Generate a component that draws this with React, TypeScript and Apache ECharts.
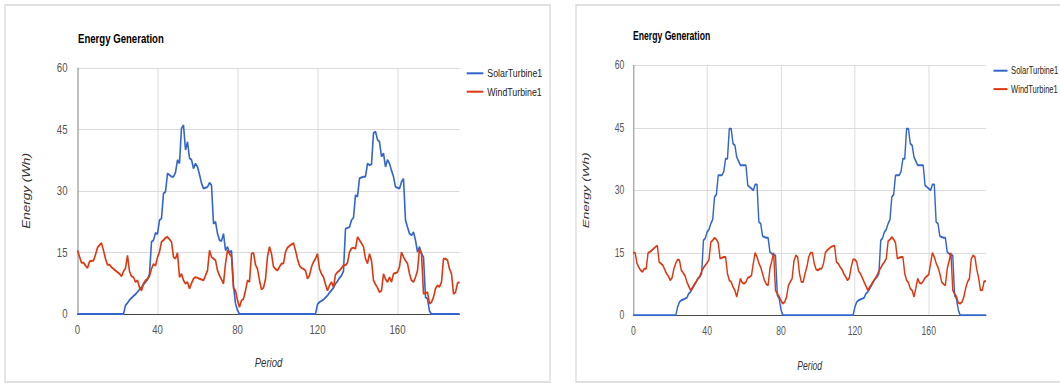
import React, { useEffect, useRef } from "react";
import * as echarts from "echarts";

const periods = Array.from({ length: 192 }, (_, i) => String(i));
const seriesNames = ["SolarTurbine1", "WindTurbine1"];
const chartTitle = "Energy Generation";
const yTitle = "Energy (Wh)";
const xTitle = "Period";

// Left chart
const leftSolar = [
  0, 0, 0, 0, 0, 0, 0, 0, 0, 0, 0, 0,
  0, 0, 0, 0, 0, 0, 0, 0, 0, 0, 0, 0,
  2.1, 2.7, 3.4, 3.9, 4.4, 4.8, 5.4, 6, 6.5, 7.2, 7.8, 8.4,
  9.8, 17.6, 18, 19.8, 19.5, 22.9, 23.3, 29.4, 29.8, 34.3, 33.9, 33.5,
  33.5, 34.5, 37.6, 36.7, 45.3, 46.1, 40, 42, 38, 37.6, 35.5, 36.7,
  35.9, 34, 31.9, 30.6, 30.8, 31, 32, 31.4, 22, 22.5, 19.6, 18,
  17.8, 19.6, 15.5, 16.4, 14.9, 15.5, 7, 2.5, 0.9, 0, 0, 0,
  0, 0, 0, 0, 0, 0, 0, 0, 0, 0, 0, 0,
  0, 0, 0, 0, 0, 0, 0, 0, 0, 0, 0, 0,
  0, 0, 0, 0, 0, 0, 0, 0, 0, 0, 0, 0,
  2.4, 2.9, 3.2, 3.5, 4, 4.5, 5.2, 5.8, 6.4, 7.4, 8, 8.8,
  9.4, 10.5, 20.8, 21, 21.2, 22.9, 23.5, 29, 28.6, 33.1, 33.3, 33.5,
  33.5, 36.7, 36.3, 36.5, 44.1, 44.5, 42.5, 42, 38.4, 39.2, 35.9, 37.6,
  36.7, 35, 33.5, 31, 30.8, 30.6, 32.2, 33, 22.9, 21.2, 19.6, 19.2,
  20, 18, 15.1, 16.4, 14.7, 13.9, 4.1, 3.7, 0.7, 0, 0, 0,
  0, 0, 0, 0, 0, 0, 0, 0, 0, 0, 0, 0,
];

const leftWind = [
  15.5, 14, 12.5, 12.5, 11.8, 11.2, 12.8, 13, 13, 14.5, 16.2, 16.8,
  17.3, 15.5, 13.5, 12, 12, 11.4, 11, 10.6, 10.2, 9.8, 9.2, 10.4,
  11.2, 14.3, 10.4, 9.2, 9, 7.8, 8.2, 6.5, 5.7, 7.4, 8.2, 8.6,
  9.2, 11, 12.2, 11.8, 13.8, 15.2, 17.6, 18, 18.6, 18.8, 18.2, 17.6,
  13.9, 13.5, 14.9, 9, 9.8, 8.2, 7.4, 7.8, 6.2, 7.5, 8.6, 9,
  8.8, 8.6, 8.4, 8.2, 9.4, 10.6, 15.5, 13.9, 13.5, 13.1, 10.6, 9.4,
  8.4, 7.4, 12.3, 15.5, 14.7, 13.9, 6.2, 5.7, 3.3, 1.7, 3.3, 3.7,
  5.7, 8.2, 7.8, 14.7, 14.9, 12, 11, 8.2, 6, 6.4, 8.5, 14,
  16.4, 14.7, 11.5, 11, 10.6, 11.5, 12.3, 12.3, 15.1, 16.2, 16.6, 17,
  17.3, 15.5, 13.4, 11.8, 11.2, 11, 10.6, 8.6, 9.4, 11.5, 12.7, 13.5,
  14.7, 11, 9.8, 9, 7.2, 5.7, 7, 7.8, 6.6, 9.6, 10.2, 10.6,
  11.2, 11.9, 11.9, 12.5, 15.1, 16, 16.2, 15.9, 18.8, 18, 17.2, 16.4,
  13.5, 12.3, 14.7, 13, 8.2, 7.2, 6.4, 5.3, 5.7, 9.8, 8.5, 7.8,
  9, 7.8, 9.8, 10, 10.2, 11.5, 15.1, 13.9, 13, 12.3, 9.8, 8.2,
  7.8, 9, 10.6, 15.9, 14.7, 4.9, 5.1, 5.3, 2.5, 2.9, 4.1, 6.2,
  7, 6.6, 7.8, 13.5, 13.5, 13.1, 11, 9.8, 4.9, 5.3, 7.5, 7.8,
];

// Right chart
const rightSolar = [
  0, 0, 0, 0, 0, 0, 0, 0, 0, 0, 0, 0,
  0, 0, 0, 0, 0, 0, 0, 0, 0, 0, 0, 0,
  2, 3.2, 3.6, 3.8, 4, 4.2, 5.2, 5.6, 6.4, 7.2, 8, 8.8,
  9.2, 10, 18, 18.5, 20, 20.6, 22, 23, 28.4, 29, 33.6, 33.6,
  33.6, 34.5, 37.6, 37.6, 44.8, 44.8, 41.2, 40.8, 38, 37, 36, 36,
  36, 36, 31.2, 30.8, 30.4, 30, 31.4, 31.4, 22.4, 22, 19, 18.8,
  18.6, 18.6, 15.2, 14.8, 14.4, 14.4, 4.8, 4, 1.3, 0, 0, 0,
  0, 0, 0, 0, 0, 0, 0, 0, 0, 0, 0, 0,
  0, 0, 0, 0, 0, 0, 0, 0, 0, 0, 0, 0,
  0, 0, 0, 0, 0, 0, 0, 0, 0, 0, 0, 0,
  2, 3.2, 3.6, 3.8, 4, 4.2, 5.2, 5.6, 6.4, 7.2, 8, 8.8,
  9.2, 10, 18, 18.5, 20, 20.6, 22, 23, 28.4, 29, 33.6, 33.6,
  33.6, 34.5, 37.6, 37.6, 44.8, 44.8, 41.2, 40.8, 38, 37, 36, 36,
  36, 36, 31.2, 30.8, 30.4, 30, 31.4, 31.4, 22.4, 22, 19, 18.8,
  18.6, 18.6, 15.2, 14.8, 14.4, 14.4, 4.8, 4, 1.3, 0, 0, 0,
  0, 0, 0, 0, 0, 0, 0, 0, 0, 0, 0, 0,
];

const rightWind = [
  15, 15, 12.5, 11.5, 10.8, 10.4, 11.2, 11.2, 15, 15.2, 15.6, 16,
  16.4, 16.7, 12.8, 12.4, 12, 11, 10, 9.4, 8.4, 9, 11.2, 12.5,
  13.4, 13.2, 10.8, 10.2, 9.5, 8, 7, 6, 6.6, 7.4, 8, 8.8,
  9.4, 10.6, 11.4, 12, 12.6, 13.4, 17.6, 18, 18.6, 18.2, 17.4, 13.6,
  13.8, 14, 14, 10, 8.4, 8, 6.8, 6, 4.4, 6.5, 8.8, 7.8,
  7.6, 8, 9, 9.2, 9.6, 12.5, 15, 14, 12.5, 11.5, 10, 8.4,
  7.5, 7.2, 11.2, 13, 15, 6, 5.2, 4.5, 3.5, 2.8, 3.2, 4.4,
  7.2, 8, 8.8, 13, 14.4, 14, 10, 8, 8, 10, 11.6, 14,
  15, 15, 12.4, 11, 10.8, 11.2, 11.2, 12.4, 15, 15.6, 16, 16.4,
  16.6, 16.7, 12.8, 12.4, 11.6, 11, 10, 9.2, 8.4, 9, 11.6, 13.4,
  13.4, 12.8, 10.6, 10, 9, 8, 7, 6, 6.8, 7.4, 8.2, 8.8,
  9.6, 10.6, 11.4, 12.2, 12.8, 13.6, 17.8, 18.2, 18.8, 18.2, 17.4, 13.6,
  13.8, 14, 14, 10, 8.4, 7.8, 6.4, 6, 4.4, 6.5, 8.8, 7.8,
  7.6, 8.2, 9, 9.4, 9.8, 12.5, 15, 14, 12.5, 11.5, 10, 8,
  7.5, 7.2, 11.2, 13, 15, 6, 5.2, 4.5, 3, 2.8, 3.2, 4.4,
  6.5, 8, 8.8, 13.5, 14.4, 14, 11, 9, 6, 6, 8.2, 8.2,
];

const FONT = "'Liberation Sans', Arial, sans-serif";
const BLUE = "#3366cc";
const RED = "#dc3912";
const GRID_COLOR = "#d6d6d6";

type PanelSpec = {
  ox: number; // page x of the panel's origin
  s: number; // horizontal squeeze of the panel
  width: number; // internal width
  solar: number[];
  wind: number[];
  plot: { x0: number; x1: number; y0: number; y1: number }; // page coords
  titleX: number;
  titleTop: number;
  legendIconX: number;
  legendIconW: number;
  legendTop: number;
  legendFont: number;
  yLabelMargin: number;
  yNameX: number;
  xNameX: number;
  xNameY: number;
  border: { x: number; y: number; w: number; h: number };
};

function buildOption(p: PanelSpec) {
  const X = (x: number) => (x - p.ox) / p.s;
  const W = (w: number) => w / p.s;
  return {
    animation: false,
    backgroundColor: "transparent",
    title: {
      text: chartTitle,
      left: X(p.titleX),
      top: p.titleTop,
      padding: 0,
      textStyle: { fontSize: 12, fontWeight: "bold", lineHeight: 14, color: "#000", fontFamily: FONT },
    },
    legend: {
      left: X(p.legendIconX),
      top: p.legendTop,
      orient: "vertical",
      icon: "rect",
      itemWidth: W(p.legendIconW),
      itemHeight: 2,
      itemGap: 4.4,
      padding: 0,
      data: seriesNames,
      textStyle: { fontSize: p.legendFont, lineHeight: 14, fontFamily: FONT, color: "#222" },
    },
    grid: {
      left: X(p.plot.x0),
      top: p.plot.y0,
      width: W(p.plot.x1 - p.plot.x0),
      height: p.plot.y1 - p.plot.y0,
      containLabel: false,
    },
    xAxis: {
      type: "category",
      data: periods,
      boundaryGap: false,
      axisTick: { show: false },
      axisLine: { show: true, lineStyle: { color: "#333", width: 1 } },
      axisLabel: { interval: 39, margin: 10, color: "#555", fontSize: 12, fontFamily: FONT },
      splitLine: { show: true, interval: 39, lineStyle: { color: GRID_COLOR, width: 1 } },
    },
    yAxis: {
      type: "value",
      min: 0,
      max: 60,
      interval: 15,
      axisTick: { show: false },
      axisLine: { show: true, lineStyle: { color: "#888", width: 1 } },
      axisLabel: { margin: W(p.yLabelMargin), color: "#555", fontSize: 12, fontFamily: FONT },
      splitLine: { show: true, lineStyle: { color: GRID_COLOR, width: 1 } },
    },
    series: [
      {
        type: "line",
        name: seriesNames[0],
        data: p.solar,
        showSymbol: false,
        symbol: "none",
        silent: true,
        color: BLUE,
        lineStyle: { color: BLUE, width: 2 },
      },
      {
        type: "line",
        name: seriesNames[1],
        data: p.wind,
        showSymbol: false,
        symbol: "none",
        silent: true,
        color: RED,
        lineStyle: { color: RED, width: 2 },
      },
    ],
    graphic: [
      {
        type: "rect",
        silent: true,
        shape: { x: X(p.border.x), y: p.border.y, width: W(p.border.w), height: p.border.h },
        style: { fill: "none", stroke: "#e0e0e0", lineWidth: 2 },
      },
      {
        type: "text",
        x: X(p.yNameX),
        y: (p.plot.y0 + p.plot.y1) / 2,
        rotation: Math.PI / 2,
        silent: true,
        style: {
          text: yTitle,
          fontSize: 13.5,
          fontStyle: "italic",
          fontFamily: FONT,
          fill: "#333",
          align: "center",
          verticalAlign: "middle",
        },
      },
      {
        type: "text",
        x: X(p.xNameX),
        y: p.xNameY,
        silent: true,
        style: {
          text: xTitle,
          fontSize: 12,
          fontStyle: "italic",
          fontFamily: FONT,
          fill: "#333",
          align: "center",
          verticalAlign: "middle",
        },
      },
    ],
  };
}

const leftPanel: PanelSpec = {
  ox: 0,
  s: 0.8,
  width: 694,
  solar: leftSolar,
  wind: leftWind,
  plot: { x0: 77.5, x1: 459.5, y0: 68, y1: 314 },
  titleX: 78,
  titleTop: 32,
  legendIconX: 466.7,
  legendIconW: 16.6,
  legendTop: 66.3,
  legendFont: 11,
  yLabelMargin: 10,
  yNameX: 26,
  xNameX: 268.5,
  xNameY: 363,
  border: { x: 5, y: 5, w: 545, h: 377 },
};

const rightPanel: PanelSpec = {
  ox: 560,
  s: 0.72,
  width: 695,
  solar: rightSolar,
  wind: rightWind,
  plot: { x0: 633.3, x1: 986, y0: 65.3, y1: 315.3 },
  titleX: 633,
  titleTop: 29,
  legendIconX: 993.5,
  legendIconW: 14,
  legendTop: 63.7,
  legendFont: 10.5,
  yLabelMargin: 9,
  yNameX: 585.5,
  xNameX: 809.7,
  xNameY: 366,
  border: { x: 576, y: 5, w: 520, h: 377 },
};

function Panel({ spec }: { spec: PanelSpec }) {
  const ref = useRef<HTMLDivElement>(null);
  useEffect(() => {
    if (!ref.current) return;
    const chart = echarts.init(ref.current, null, { renderer: "svg" });
    chart.setOption(buildOption(spec) as any);
    return () => chart.dispose();
  }, [spec]);
  return (
    <div
      ref={ref}
      style={{
        position: "absolute",
        left: spec.ox,
        top: 0,
        width: spec.width,
        height: 383,
        transform: `scaleX(${spec.s})`,
        transformOrigin: "0 0",
      }}
    />
  );
}

export default function App() {
  return (
    <div
      style={{
        position: "absolute",
        left: 0,
        top: 0,
        width: 1060,
        height: 383,
        background: "#fff",
        overflow: "hidden",
      }}
    >
      <Panel spec={leftPanel} />
      <Panel spec={rightPanel} />
    </div>
  );
}
